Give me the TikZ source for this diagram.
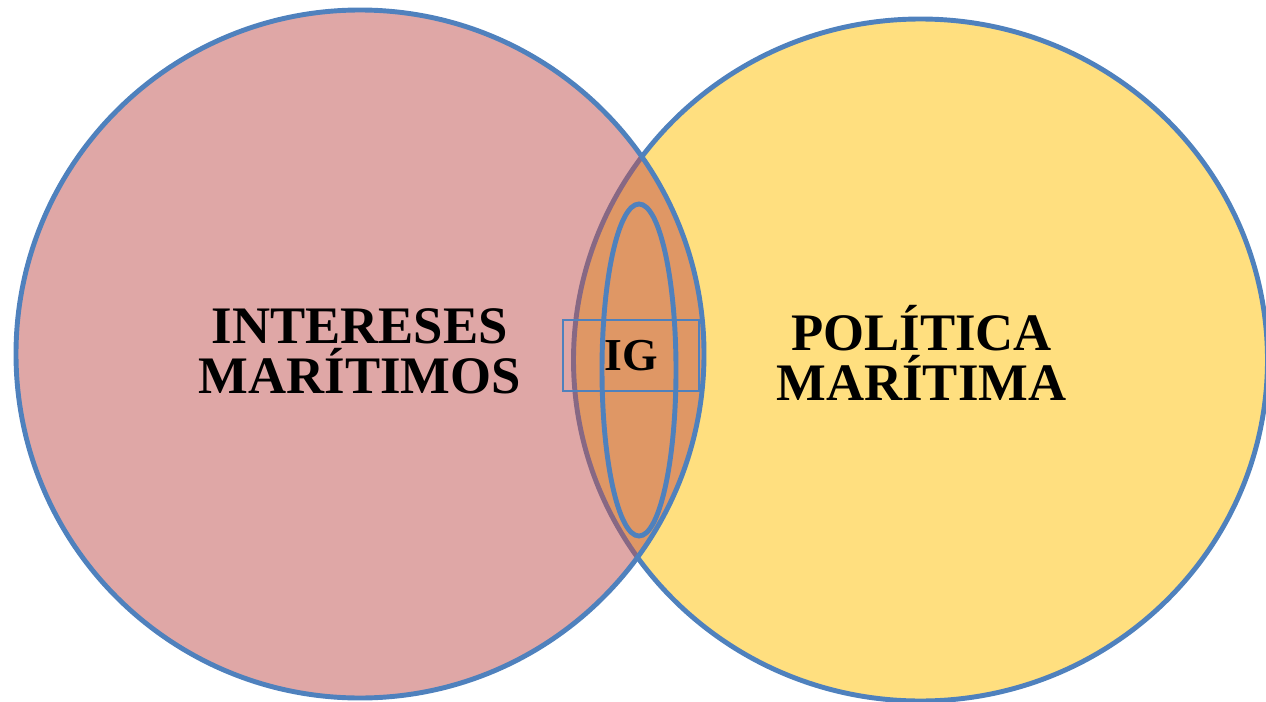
\documentclass[tikz,border=0pt]{standalone}
\usepackage{fontspec}
\setmainfont{Liberation Serif}
\usetikzlibrary{calc}
\definecolor{ovalblue}{HTML}{4F81BD}
\definecolor{interesred}{HTML}{C0504D}
\definecolor{politicagold}{HTML}{FFC000}
\tikzset{
	venn/.style={draw=ovalblue, line width=2.8pt, fill opacity=0.5},
	venntext/.style={font=\bfseries\fontsize{30}{#1}\selectfont, align=center, inner sep=0pt},
}

\begin{document}
\begin{tikzpicture}[x=0.02cm, y=0.02cm]
			%%%%% START %%%%%
			
			\useasboundingbox (0, 0) rectangle (1266, 701);
			
			\draw[venn, fill=politicagold] (920.5, 341) ellipse (347 and 341);
			\draw[venn, fill=interesred] (360, 347) circle (344);
			
			\draw[draw=ovalblue, line width=2.8pt] (639, 331) ellipse (37 and 166);
			
			\node[draw=ovalblue, line width=0.85pt, inner sep=0pt, minimum width=2.72cm, minimum height=1.42cm, font=\bfseries\fontsize{26}{26}\selectfont] (ig) at (631, 345.5) {IG};
			
			\node[venntext=28.5] (intereses) at (359.7, 349.5) {INTERESES\\MARÍTIMOS};
			\node[venntext=28.5] (politica) at (921.5, 348.5) {POLÍTICA\\MARÍTIMA};
			
			%%%%% END %%%%%
\end{tikzpicture}
\end{document}
